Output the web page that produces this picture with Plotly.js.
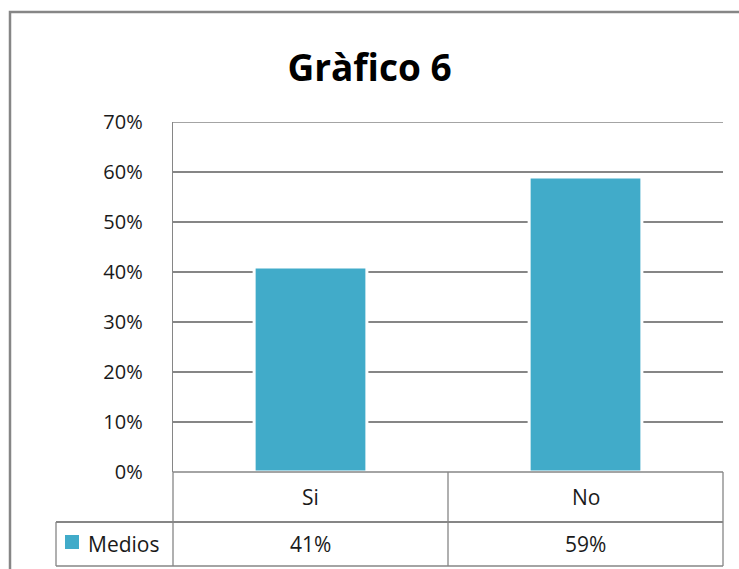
<!DOCTYPE html>
<html>
<head>
<meta charset="utf-8">
<script src="https://cdn.plot.ly/plotly-3.0.1.min.js"></script>
<style>html,body{margin:0;padding:0;background:#fff;}#chart{width:739px;height:569px;}</style>
</head>
<body>
<div id="chart"></div>
<script>
var categories = ["Si", "No"];
var seriesName = "Medios";
var values = [0.41, 0.59];
var yTickVals = [0, 0.1, 0.2, 0.3, 0.4, 0.5, 0.6, 0.7];
var yTickText = ["0%", "10%", "20%", "30%", "40%", "50%", "60%", "70%"];
var titleText = "Gràfico 6";

var barColor = "#41abc9";
var lineColor = "#868686";
var textColor = "#1a1a1a";
var font = "Open Sans, DejaVu Sans, sans-serif";

var W = 739, H = 569, L = 173, R = 16, T = 122, B = 97;
var pw = W - L - R, ph = H - T - B;
function px2x(p) { return (p - L) / pw; }
function py2y(p) { return (H - B - p) / ph; }

var trace = {
  type: "bar",
  x: categories,
  y: values,
  name: seriesName,
  width: 0.41,
  marker: { color: barColor, line: { color: "#ffffff", width: 3 } },
  hoverinfo: "skip"
};

var shapes = [];
// outer chart border
shapes.push({ type: "rect", xref: "paper", yref: "paper",
  x0: px2x(10), x1: px2x(760), y0: py2y(12), y1: py2y(590),
  line: { color: lineColor, width: 2.5 }, fillcolor: "rgba(0,0,0,0)", layer: "below" });
// top gridline (at range end)
shapes.push({ type: "line", xref: "paper", yref: "y", x0: 0, x1: 1,
  y0: yTickVals[yTickVals.length - 1], y1: yTickVals[yTickVals.length - 1],
  line: { color: lineColor, width: 1.3 }, layer: "below" });
// baseline
shapes.push({ type: "line", xref: "paper", yref: "paper", x0: 0, x1: 1, y0: 0, y1: 0,
  line: { color: lineColor, width: 1.3 } });
// data table lines
var rowMid = py2y(522), rowBot = py2y(566), tLeft = px2x(56);
shapes.push({ type: "line", xref: "paper", yref: "paper", x0: tLeft, x1: 1, y0: rowMid, y1: rowMid, line: { color: lineColor, width: 2 } });
shapes.push({ type: "line", xref: "paper", yref: "paper", x0: tLeft, x1: 1, y0: rowBot, y1: rowBot, line: { color: lineColor, width: 1.3 } });
shapes.push({ type: "line", xref: "paper", yref: "paper", x0: tLeft, x1: tLeft, y0: rowMid, y1: rowBot, line: { color: lineColor, width: 1.3 } });
shapes.push({ type: "line", xref: "paper", yref: "paper", x0: 0, x1: 0, y0: 0, y1: rowBot, line: { color: lineColor, width: 1.3 } });
shapes.push({ type: "line", xref: "paper", yref: "paper", x0: 1, x1: 1, y0: 0, y1: rowBot, line: { color: lineColor, width: 1.3 } });
for (var i = 1; i < categories.length; i++) {
  var xb = i / categories.length;
  shapes.push({ type: "line", xref: "paper", yref: "paper", x0: xb, x1: xb, y0: 0, y1: rowBot, line: { color: lineColor, width: 1.3 } });
}
// legend key square
shapes.push({ type: "rect", xref: "paper", yref: "paper",
  x0: px2x(65), x1: px2x(79), y0: py2y(535), y1: py2y(549),
  line: { width: 0 }, fillcolor: barColor });

var annotations = [];
var catY = py2y(497), valY = py2y(544);
for (var j = 0; j < categories.length; j++) {
  annotations.push({ xref: "x", yref: "paper", x: categories[j], y: catY, text: categories[j],
    showarrow: false, font: { family: font, size: 21, color: textColor }, xanchor: "center", yanchor: "middle" });
  annotations.push({ xref: "x", yref: "paper", x: categories[j], y: valY, text: Math.round(values[j] * 100) + "%",
    showarrow: false, font: { family: font, size: 21, color: textColor }, xanchor: "center", yanchor: "middle" });
}
annotations.push({ xref: "paper", yref: "paper", x: px2x(86), y: valY, text: seriesName,
  showarrow: false, font: { family: font, size: 21, color: textColor }, xanchor: "left", yanchor: "middle" });

var layout = {
  width: W, height: H,
  margin: { l: L, r: R, t: T, b: B, pad: 0 },
  paper_bgcolor: "#ffffff", plot_bgcolor: "#ffffff",
  showlegend: false,
  title: { text: "<b>" + titleText + "</b>", x: 0.5, xref: "container", xanchor: "center",
    y: 1 - 68 / H, yref: "container", yanchor: "middle",
    font: { family: font, size: 37, color: "#000" } },
  xaxis: { type: "category", range: [-0.5, 1.5], showticklabels: false, showgrid: false,
    zeroline: false, showline: false, ticks: "", fixedrange: true },
  yaxis: { range: [0, 0.7], tickvals: yTickVals, ticktext: yTickText, showgrid: true,
    gridcolor: lineColor, gridwidth: 1.3, zeroline: false, showline: true, linecolor: lineColor,
    linewidth: 1.3, ticks: "", ticklabelstandoff: 25,
    tickfont: { family: font, size: 20, color: textColor }, fixedrange: true },
  shapes: shapes,
  annotations: annotations
};

Plotly.newPlot("chart", [trace], layout, { displayModeBar: false, staticPlot: true });
</script>
</body>
</html>
